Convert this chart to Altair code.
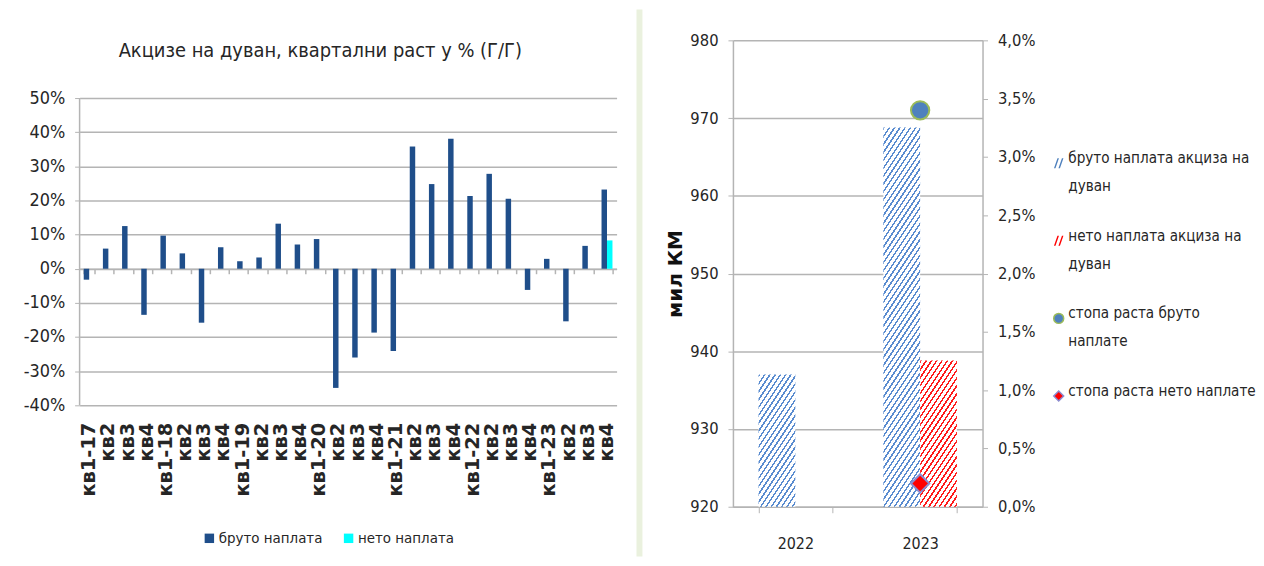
import altair as alt
import pandas as pd
import json
import math

# ---------------- data ----------------
quarter_labels = ["кв1-17", "кв2", "кв3", "кв4", "кв1-18", "кв2", "кв3", "кв4",
                  "кв1-19", "кв2", "кв3", "кв4", "кв1-20", "кв2", "кв3", "кв4",
                  "кв1-21", "кв2", "кв3", "кв4", "кв1-22", "кв2", "кв3", "кв4",
                  "кв1-23", "кв2", "кв3", "кв4"]
gross_growth = [-3.2, 5.9, 12.5, -13.5, 9.7, 4.5, -15.8, 6.3, 2.2, 3.3, 13.2, 7.1,
                8.7, -34.9, -26.0, -18.7, -24.1, 35.8, 24.8, 38.1, 21.3, 27.8, 20.5,
                -6.2, 2.9, -15.4, 6.7, 23.2]
net_growth = [None] * 27 + [8.3]
left_series = ["бруто наплата", "нето наплата"]
left_title = "Акцизе на дуван, квартални раст у % (Г/Г)"
left_ticks = [-40, -30, -20, -10, 0, 10, 20, 30, 40, 50]

years = ["2022", "2023"]
gross_payment = [937.0, 968.8]
net_payment = [None, 938.8]
gross_rate = [None, 3.4]
net_rate = [None, 0.2]
right_ticks = [920, 930, 940, 950, 960, 970, 980]
rate_ticks = [0.0, 0.5, 1.0, 1.5, 2.0, 2.5, 3.0, 3.5, 4.0]
right_legend = ["бруто наплата акциза на|дуван", "нето наплата акциза на|дуван",
                "стопа раста бруто|наплате", "стопа раста нето наплате"]
y_axis_title = "мил КМ"
page_title = "Графикон 13"

# ---------------- styles ----------------
NARROW = "Liberation Sans Narrow, DejaVu Sans Condensed, Arial Narrow, sans-serif"
TXT = "#262626"
GRID = "#b4b4b4"
NAVY = "#1F4E8A"
CYAN = "#00FFFF"
HBLUE = "#4F81BD"
STRIPE_BLUE = "#5A8CD0"
HRED = "#FF0000"
STRIPE_RED = "#FF1A1A"
GREEN_BG = "#EAF1DE"

# left plot: the y range is extended above 50 % so both panels share a plot top
L_PX_PER_UNIT = 309 / 90.0
LW = 540
L_EXTRA = 58  # px between the two panels' plot tops
LH = 309 + L_EXTRA
L_TOP = 50 + L_EXTRA / L_PX_PER_UNIT
RW, RH = 251, 469
R_MIN, R_MAX = 920, 980
L_BAR = 5.5
BAR_W = 37.0


def one_row():
    return pd.DataFrame({"k": [0]})


# ---------------- left chart ----------------
rows = []
for i, v in enumerate(gross_growth):
    rows.append({"i": i, "series": left_series[0], "value": v})
for i, v in enumerate(net_growth):
    if v is not None:
        rows.append({"i": i, "series": left_series[1], "value": v})
df_l = pd.DataFrame(rows)

label_expr = json.dumps(quarter_labels, ensure_ascii=False) + "[datum.value]"
x_left_scale = alt.Scale(type="band", paddingInner=0.43, paddingOuter=0.215)

x_left_labels = alt.X("i:O", scale=x_left_scale,
                      axis=alt.Axis(title=None, orient="bottom", labelAngle=-90, labelExpr=label_expr,
                                    ticks=False, tickSize=0, domain=False, grid=False,
                                    labelPadding=17, labelFont="DejaVu Sans", labelFontSize=19.5,
                                    labelFontWeight="bold", labelColor=TXT))
x_left_plain = alt.X("i:O", scale=x_left_scale, axis=None)
y_left = alt.Y("value:Q", scale=alt.Scale(domain=[-40, L_TOP], nice=False, zero=False),
               axis=alt.Axis(title=None, values=left_ticks,
                             labelExpr="datum.value + '%'", grid=True, gridColor=GRID,
                             gridWidth=1.5, domain=False,
                             tickColor=GRID, tickSize=5, labelPadding=10,
                             labelFont=NARROW, labelFontSize=18, labelColor=TXT))
color_left = alt.Color("series:N", scale=alt.Scale(domain=left_series, range=[NAVY, CYAN]),
                       legend=alt.Legend(title=None, orient="none", legendX=123, legendY=493,
                                         direction="horizontal", symbolType="square",
                                         symbolSize=90, symbolStrokeWidth=0,
                                         labelFont=NARROW, labelFontSize=15, labelColor=TXT,
                                         labelOffset=2, columnPadding=18))

bounds_l = alt.Chart(one_row()).mark_rect(opacity=0).encode(
    x=alt.value(-67), x2=alt.value(560), y=alt.value(-31), y2=alt.value(519))

bars_gross = alt.Chart(df_l).transform_filter(
    alt.datum.series == left_series[0]).mark_bar(size=L_BAR, xOffset=-L_BAR / 2).encode(
    x=x_left_labels, y=y_left, color=color_left)
bars_net = alt.Chart(df_l).transform_filter(
    alt.datum.series == left_series[1]).mark_bar(size=L_BAR, xOffset=L_BAR / 2).encode(
    x=x_left_plain, y=y_left, color=color_left)

y_axis_line = alt.Chart(one_row()).mark_rule(color=GRID, strokeWidth=1.5).encode(
    x=alt.value(0), y=alt.datum(left_ticks[0]), y2=alt.datum(left_ticks[-1]))

zero_axis = alt.Chart(df_l).mark_bar(opacity=0).encode(
    x=alt.X("i:O", scale=x_left_scale,
            axis=alt.Axis(title=None, labels=False, orient="bottom", offset=-40 * L_PX_PER_UNIT,
                          domain=True, domainColor=GRID, domainWidth=1.5,
                          ticks=True, tickBand="extent", tickSize=5, tickColor=GRID,
                          tickWidth=1.5, grid=False)))

title_l = alt.Chart(one_row()).mark_text(
    font=NARROW, fontSize=20, color=TXT, align="center", baseline="middle").encode(
    x=alt.value(242), y=alt.value(11), text=alt.value(left_title))

left = alt.layer(bounds_l, y_axis_line, bars_gross, bars_net, zero_axis, title_l).resolve_axis(
    x="independent").properties(width=LW, height=LH)


# ---------------- right chart ----------------
def hatch(color, w, h, period=4.4, thick=1.5, p=1.0, q=1.5):
    lam = (q * w + p * h) / (q * q * w * w + p * p * h * h)
    x2, y2 = lam * q * w, lam * p * h
    dist = (q * w + p * h) / math.hypot(p, q)
    stops = []
    k = 0
    while True:
        a = k * period / dist
        if a >= 1:
            break
        b = min((k * period + thick) / dist, 1.0)
        stops += [{"offset": round(a, 5), "color": "#ffffff"},
                  {"offset": round(a, 5), "color": color},
                  {"offset": round(b, 5), "color": color},
                  {"offset": round(b, 5), "color": "#ffffff"}]
        k += 1
    return {"gradient": "linear", "x1": 0, "y1": 0, "x2": round(x2, 5), "y2": round(y2, 5),
            "stops": stops}


x_right = alt.X("year:N", scale=alt.Scale(type="band", domain=years, paddingInner=0.41, paddingOuter=0.205),
                axis=alt.Axis(title=None, labelAngle=0, labelFont=NARROW, labelFontSize=16,
                              labelColor=TXT, labelPadding=23, tickBand="extent", tickSize=6,
                              tickColor=GRID, domainColor=GRID, domainWidth=1.5, grid=False))
y_left_r = alt.Y("value:Q", scale=alt.Scale(domain=[R_MIN, R_MAX], nice=False, zero=False),
                 axis=alt.Axis(title=y_axis_title, values=right_ticks,
                               grid=True, gridColor=GRID, gridWidth=1.5, domainColor=GRID,
                               domainWidth=1.5, tickColor=GRID, tickSize=5, labelPadding=10,
                               labelFont=NARROW, labelFontSize=16.5, labelColor=TXT,
                               titleFont="DejaVu Sans", titleFontWeight="bold",
                               titleFontSize=20, titleColor="#111111", titlePadding=4))


def bar_layer(year, value, color, offset):
    h = (value - R_MIN) / (R_MAX - R_MIN) * RH
    df = pd.DataFrame({"year": [year], "value": [value]})
    return alt.Chart(df).mark_bar(fill=hatch(color, BAR_W, h), size=BAR_W, xOffset=offset).encode(
        x=x_right, y=y_left_r, y2=alt.datum(R_MIN))


bar_layers = []
for yr, v in zip(years, gross_payment):
    if v is not None:
        bar_layers.append(bar_layer(yr, v, STRIPE_BLUE, -BAR_W / 2))
for yr, v in zip(years, net_payment):
    if v is not None:
        bar_layers.append(bar_layer(yr, v, STRIPE_RED, BAR_W / 2))
bars_r = alt.layer(*bar_layers)

prow = []
for yr, v in zip(years, gross_rate):
    if v is not None:
        prow.append({"year": yr, "series": right_legend[2], "rate": v})
for yr, v in zip(years, net_rate):
    if v is not None:
        prow.append({"year": yr, "series": right_legend[3], "rate": v})
df_p = pd.DataFrame(prow)

HATCH_PATH = ("M-0.95,1L-0.25,-1L0.05,-1L-0.65,1Z "
              "M-0.05,1L0.65,-1L0.95,-1L0.25,1Z")
leg_r = alt.Legend(title=None, orient="none", legendX=320, legendY=116, direction="vertical",
                   labelExpr="split(datum.label, '|')", labelFont=NARROW, labelFontSize=15.2,
                   labelColor=TXT, labelLimit=400, labelOffset=2, rowPadding=34,
                   symbolSize=100, symbolStrokeWidth=1.5, labelBaseline="alphabetic")

points = alt.Chart(df_p).mark_point(filled=True, opacity=1, strokeWidth=2, size=340).encode(
    x=x_right,
    y=alt.Y("rate:Q", scale=alt.Scale(domain=[0, 4], nice=False, zero=True),
            axis=alt.Axis(orient="right", title=None, values=rate_ticks,
                          grid=False, labelExpr="replace(format(datum.value, '.1f'), '.', ',') + '%'",
                          domainColor=GRID, domainWidth=1.5, tickColor=GRID, tickSize=5,
                          labelPadding=10, labelFont=NARROW, labelFontSize=16.5, labelColor=TXT)),
    color=alt.Color("series:N", scale=alt.Scale(domain=right_legend,
                                                range=[HBLUE, HRED, HBLUE, HRED]), legend=leg_r),
    shape=alt.Shape("series:N", scale=alt.Scale(domain=right_legend,
                                                range=[HATCH_PATH, HATCH_PATH, "circle", "diamond"]),
                    legend=leg_r),
    stroke=alt.Stroke("series:N", scale=alt.Scale(domain=right_legend,
                                                  range=["transparent", "transparent", "#9BBB59", "#8C8CD0"]),
                      legend=leg_r),
)

bounds_r = alt.Chart(one_row()).mark_rect(opacity=0).encode(
    x=alt.value(-97), x2=alt.value(515), y=alt.value(-31), y2=alt.value(519))
divider = alt.Chart(one_row()).mark_rect(color=GREEN_BG).encode(
    x=alt.value(-97), x2=alt.value(-91), y=alt.value(-31), y2=alt.value(519))
title_top = alt.Chart(one_row()).mark_text(
    font="Open Sans, sans-serif", fontSize=21, color="#111111", align="center",
    baseline="alphabetic", clip=True).encode(x=alt.value(-80), y=alt.value(-34), text=alt.value(page_title))

right = alt.layer(bounds_r, divider, bars_r, points, title_top).resolve_scale(
    y="independent").properties(width=RW, height=RH)

IND = dict(color="independent", shape="independent", stroke="independent")
chart = alt.hconcat(left, right, spacing=0).resolve_scale(**IND).properties(
    padding={"left": 5, "right": 0, "top": 0, "bottom": 0}
).configure(background="white", style={"guide-label": {"lineHeight": 28}}).configure_view(stroke=None)

chart.save("out.html", embed_options={"renderer": "svg", "actions": False})
